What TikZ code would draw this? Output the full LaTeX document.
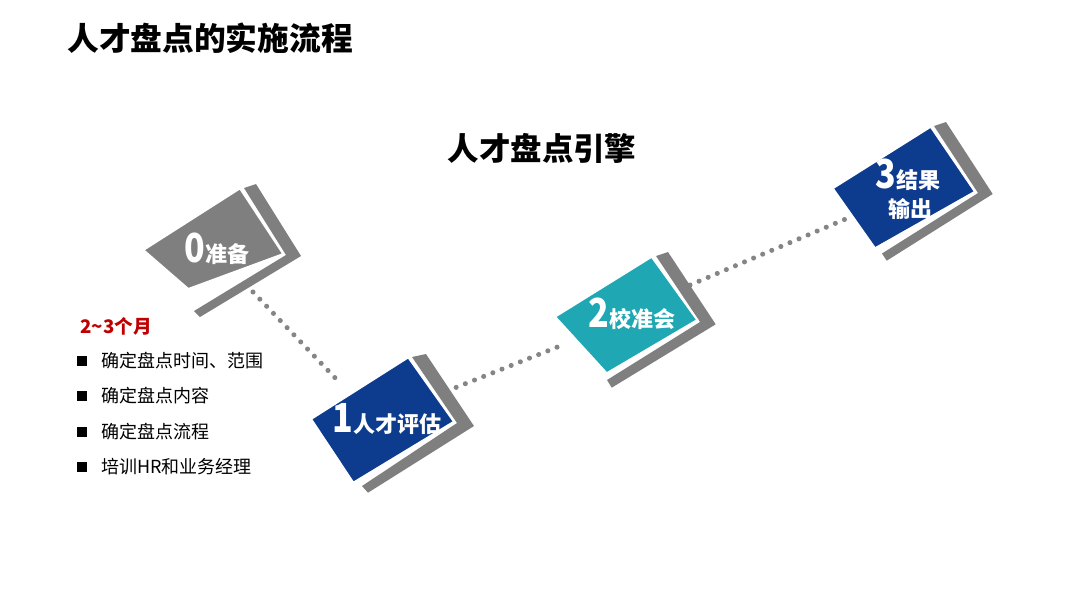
\documentclass[tikz,border=0pt]{standalone}
\usepackage{fontspec}
\setmainfont{Noto Sans CJK SC}
\definecolor{boxblue}{HTML}{0D3B8E}
\definecolor{boxteal}{HTML}{1FA7B3}
\definecolor{boxgray}{HTML}{7F7F7F}
\definecolor{dotgray}{HTML}{858585}
\definecolor{darkred}{HTML}{C00000}
\newcommand{\dig}[1]{{\fontsize{30}{30}\selectfont\scalebox{0.85}[1]{#1}}}
\newcommand{\lab}[1]{{\fontsize{16.5}{18}\selectfont #1}}
\begin{document}
\begin{tikzpicture}[x=0.75pt,y=-0.75pt,
  backbox/.style={fill=boxgray},
  frontbox/.style={draw=white,line width=1.5pt,line join=miter},
  dotline/.style={draw=dotgray,line width=3.8pt,line cap=round,dash pattern=on 0pt off 7.4pt},
  boxlabel/.style={text=white,font=\bfseries,inner sep=0pt,align=center},
  listitem/.style={anchor=west,inner sep=0pt,font=\fontsize{13.5}{16}\selectfont},
  bulletsq/.style={fill=black,minimum size=6.8pt,inner sep=0pt}]
\useasboundingbox (0,0) rectangle (1080,608);
% connector end points
\coordinate (c01a) at (253,292);
\coordinate (c01b) at (340,383);
\coordinate (c12a) at (447,391);
\coordinate (c12b) at (560,346);
\coordinate (c23a) at (690,285);
\coordinate (c23b) at (848,218);
\draw[dotline] (c01a) -- (c01b);
\draw[dotline] (c12a) -- (c12b);
\draw[dotline] (c23a) -- (c23b);
% box 0
\fill[backbox] (244,188) -- (256,184) -- (301,256) -- (200,317) -- (194,311) -- (286,255) -- cycle;
\filldraw[frontbox,fill=boxgray] (143.3,250) -- (240,188.3) -- (283.3,254) -- (188.3,289) -- cycle;
% box 1
\fill[backbox] (412,357) -- (426,354) -- (474,426) -- (368,492.7) -- (362,486) -- (457,423) -- cycle;
\filldraw[frontbox,fill=boxblue] (311,419) -- (408.3,357.3) -- (454,421.7) -- (353.3,482.7) -- cycle;
% box 2
\fill[backbox] (656,256) -- (668,252) -- (715.7,324.3) -- (611.7,387.7) -- (607,380) -- (700,322) -- cycle;
\filldraw[frontbox,fill=boxteal] (555,316.7) -- (651.7,256.7) -- (697.3,320) -- (606.7,373.3) -- cycle;
% box 3
\fill[backbox] (934,126) -- (946,122) -- (992.7,194) -- (886.7,260.7) -- (882,253.5) -- (978,193) -- cycle;
\filldraw[frontbox,fill=boxblue] (832.7,188.3) -- (930.7,126.7) -- (975,191.7) -- (875,248.3) -- cycle;
% box labels
\node[boxlabel] (s0) at (217,249) {\dig{0}\lab{准备}};
\node[boxlabel] (s1) at (387,419) {\dig{1}\lab{人才评估}};
\node[boxlabel] (s2) at (632,314) {\dig{2}\lab{校准会}};
\node[boxlabel] (s3a) at (908,175) {\dig{3}\lab{结果}};
\node[boxlabel] (s3b) at (910,209) {\lab{输出}};
% titles
\node[anchor=west,inner sep=0pt,font=\bfseries\fontsize{23.8}{26}\selectfont] (title) at (67,38) {人才盘点的实施流程};
\node[inner sep=0pt,font=\bfseries\fontsize{23.6}{26}\selectfont] (engine) at (542,148) {人才盘点引擎};
% list
\node[anchor=west,inner sep=0pt,text=darkred,font=\bfseries\fontsize{14}{16}\selectfont] (period) at (80,326) {2\textasciitilde3个月};
\node[bulletsq] (b1) at (82,361) {};
\node[bulletsq] (b2) at (82,396) {};
\node[bulletsq] (b3) at (82,432) {};
\node[bulletsq] (b4) at (82,467) {};
\node[listitem] (t1) at (101,361) {确定盘点时间、范围};
\node[listitem] (t2) at (101,396) {确定盘点内容};
\node[listitem] (t3) at (101,432) {确定盘点流程};
\node[listitem] (t4) at (101,467) {培训HR和业务经理};
\end{tikzpicture}
\end{document}
